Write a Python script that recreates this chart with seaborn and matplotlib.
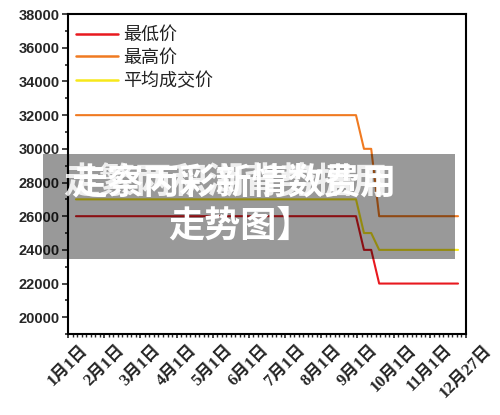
import matplotlib
matplotlib.use("Agg")
import matplotlib.pyplot as plt
from matplotlib.patches import Rectangle
from matplotlib.ticker import MultipleLocator
import seaborn as sns
import pandas as pd

# tick labels along x (evenly spaced, one unit apart)
date_labels = ["1月1日", "2月1日", "3月1日", "4月1日", "5月1日", "6月1日",
               "7月1日", "8月1日", "9月1日", "10月1日", "11月1日", "12月27日"]

# x positions of the line vertices, in tick units
xs = [0.22, 7.96, 8.18, 8.38, 8.60, 10.78]
low_price = [26000, 26000, 24000, 24000, 22000, 22000]
high_price = [32000, 32000, 30000, 30000, 26000, 26000]
avg_price = [27000, 27000, 25000, 25000, 24000, 24000]

series_names = ["最低价", "最高价", "平均成交价"]
colors = ["#e8191f", "#f07a21", "#f7e81a"]

df = pd.concat([
    pd.DataFrame({"x": xs, "price": low_price, "series": series_names[0]}),
    pd.DataFrame({"x": xs, "price": high_price, "series": series_names[1]}),
    pd.DataFrame({"x": xs, "price": avg_price, "series": series_names[2]}),
])

sns.set_style("ticks")
plt.rcParams["font.family"] = ["Liberation Sans", "Noto Sans CJK SC", "DejaVu Sans"]

fig = plt.figure(figsize=(5, 4.15), dpi=100)
ax = fig.add_axes([0.136, 0.195, 0.796, 0.771])

sns.lineplot(data=df, x="x", y="price", hue="series", hue_order=series_names,
             palette=colors, linewidth=1.5, ax=ax)

ax.set_xlim(0, 11)
ax.set_ylim(19000, 38000)
ax.set_xlabel("")
ax.set_ylabel("")

ax.yaxis.set_minor_locator(MultipleLocator(1000))
ax.set_yticks(range(20000, 38001, 2000))
ax.tick_params(axis="y", which="major", length=4, width=1.2, labelsize=10.5, pad=2)
ax.tick_params(axis="y", which="minor", length=2.5, width=1.2)
for lbl in ax.get_yticklabels():
    lbl.set_fontweight("bold")

ax.set_xticks(range(len(date_labels)))
ax.set_xticklabels(date_labels, rotation=45, ha="center",
                   fontsize=12, fontweight="bold",
                   family=["Liberation Serif", "Noto Sans CJK SC"])
ax.xaxis.set_minor_locator(MultipleLocator(0.125))
ax.tick_params(axis="x", which="major", length=3, width=1.2, pad=3)
ax.tick_params(axis="x", which="minor", length=2, width=1.0)

for sp in ax.spines.values():
    sp.set_color("black")
    sp.set_linewidth(1.5)

leg = ax.legend(loc="upper left", bbox_to_anchor=(0, 0.985), frameon=False,
                fontsize=13, handlelength=2.3, handletextpad=0.3,
                labelspacing=0.32, borderpad=0.2, borderaxespad=0.25)
for line in leg.get_lines():
    line.set_linewidth(1.8)
for t in leg.get_texts():
    t.set_color("#222222")

# grey banner with white overlaid title text
fig.add_artist(Rectangle((43 / 500, 1 - 259 / 415), 412 / 500, 105 / 415,
                         transform=fig.transFigure, facecolor="black",
                         alpha=0.4, edgecolor="none"))
fig.text(234 / 500, 1 - 183 / 415, "走察丙彩新情数费用", color="white",
         fontsize=26, fontweight="black", ha="center", va="center",
         family=["Noto Sans CJK SC"])
fig.text(226 / 500, 1 - 183 / 415, "走繁两积湖背势据用", color="white",
         fontsize=26, fontweight="black", ha="center", va="center",
         family=["Noto Sans CJK SC"], alpha=0.85)
fig.text(240 / 500, 1 - 226 / 415, "走势图】", color="white",
         fontsize=26, fontweight="black", ha="center", va="center",
         family=["Noto Sans CJK SC"])

fig.savefig("out.png", dpi=100)
